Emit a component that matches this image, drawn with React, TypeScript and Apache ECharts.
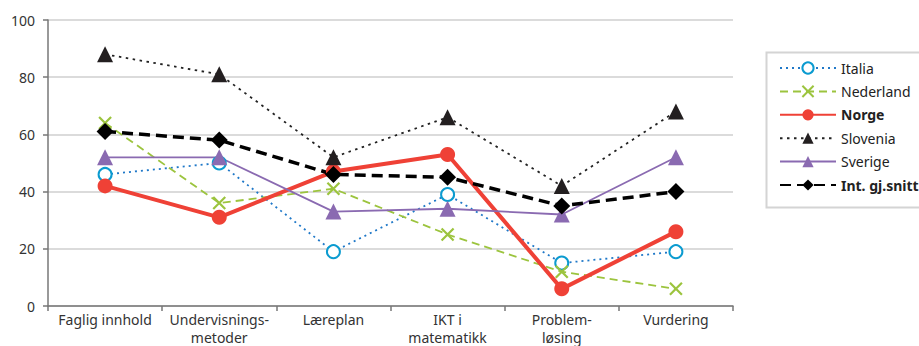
import React, { useEffect, useRef } from "react";
import * as echarts from "echarts";

const categories = [
  "Faglig innhold",
  "Undervisnings-\nmetoder",
  "Læreplan",
  "IKT i\nmatematikk",
  "Problem-\nløsing",
  "Vurdering",
];

const italia = [46, 50, 19, 39, 15, 19];
const nederland = [64, 36, 41, 25, 12, 6];
const norge = [42, 31, 47, 53, 6, 26];
const slovenia = [88, 81, 52, 66, 42, 68];
const sverige = [52, 52, 33, 34, 32, 52];
const intSnitt = [61, 58, 46, 45, 35, 40];

const yTicks = [0, 20, 40, 60, 80, 100];

const FONT = "Noto Sans";
const CROSS = "path://M0,0L10,10M10,0L0,10";

export default function App() {
  const ref = useRef<HTMLDivElement>(null);

  useEffect(() => {
    if (!ref.current) return;
    const chart = echarts.init(ref.current, undefined, { renderer: "svg" });
    chart.setOption({
      animation: false,
      backgroundColor: "#ffffff",
      textStyle: { fontFamily: FONT },
      grid: { left: 48, right: 186, top: 20, bottom: 40, containLabel: false },
      xAxis: {
        type: "category",
        data: categories,
        boundaryGap: true,
        axisLine: { lineStyle: { color: "#777", width: 1.5 } },
        axisTick: { show: true, length: 5, interval: 0, lineStyle: { color: "#777", width: 1.5 } },
        axisLabel: {
          interval: 0,
          color: "#333",
          fontSize: 14,
          fontFamily: FONT,
          margin: 4,
          lineHeight: 18,
        },
      },
      yAxis: {
        type: "value",
        min: yTicks[0],
        max: yTicks[yTicks.length - 1],
        interval: 20,
        axisLine: { show: true, lineStyle: { color: "#777", width: 1.5 } },
        axisTick: { show: true, length: 5, lineStyle: { color: "#777", width: 1.5 } },
        axisLabel: { color: "#333", fontSize: 14, fontFamily: FONT, margin: 13 },
        splitLine: { lineStyle: { color: "#cfcfcf", width: 1.5 } },
      },
      graphic: [
        {
          type: "rect",
          left: 764,
          top: 50,
          shape: { width: 170, height: 155 },
          style: { fill: "none", stroke: "#d4d4d4", lineWidth: 2 },
          z: 0,
        },
      ],
      legend: {
        orient: "vertical",
        left: 779,
        top: 61,
        itemWidth: 56,
        itemHeight: 14,
        itemGap: 9.4,
        padding: 0,
        textStyle: {
          fontFamily: FONT,
          fontSize: 14,
          lineHeight: 14,
          color: "#222",
          rich: {
            b: { fontWeight: "bold", fontSize: 14, lineHeight: 14, fontFamily: FONT, color: "#222" },
            n: { fontSize: 14, lineHeight: 14, fontFamily: FONT, color: "#222" },
          },
        },
        formatter: (name: string) =>
          name === "Norge" || name === "Int. gj.snitt" ? `{b|${name}}` : `{n|${name}}`,
        data: ["Italia", "Nederland", "Norge", "Slovenia", "Sverige", "Int. gj.snitt"],
      },
      series: [
        {
          name: "Italia",
          type: "line",
          data: italia,
          symbol: "emptyCircle",
          symbolSize: 13,
          lineStyle: { color: "#1f78c8", width: 1.8, type: [2, 4] },
          itemStyle: { color: "#0b9bd0", borderColor: "#0b9bd0", borderWidth: 2.5 },
        },
        {
          name: "Nederland",
          type: "line",
          data: nederland,
          symbol: CROSS,
          symbolSize: 12,
          lineStyle: { color: "#9cc43e", width: 1.8, type: [8, 5] },
          itemStyle: { color: "transparent", borderColor: "#9cc43e", borderWidth: 2.2 },
        },
        {
          name: "Norge",
          type: "line",
          data: norge,
          symbol: "circle",
          symbolSize: 15,
          lineStyle: { color: "#ef4136", width: 4 },
          itemStyle: { color: "#ef4136" },
        },
        {
          name: "Slovenia",
          type: "line",
          data: slovenia,
          symbol: "triangle",
          symbolSize: 16,
          lineStyle: { color: "#222", width: 1.8, type: [2.5, 4.5] },
          itemStyle: { color: "#231f20" },
        },
        {
          name: "Sverige",
          type: "line",
          data: sverige,
          symbol: "triangle",
          symbolSize: 16,
          lineStyle: { color: "#8a6ab1", width: 1.8 },
          itemStyle: { color: "#8a6ab1" },
        },
        {
          name: "Int. gj.snitt",
          type: "line",
          data: intSnitt,
          symbol: "diamond",
          symbolSize: 17,
          lineStyle: { color: "#000", width: 3.5, type: [11, 6] },
          itemStyle: { color: "#000" },
        },
      ],
    });
    return () => chart.dispose();
  }, []);

  return (
    <div
      ref={ref}
      style={{ position: "fixed", left: 0, top: 0, width: 919, height: 346 }}
    />
  );
}
